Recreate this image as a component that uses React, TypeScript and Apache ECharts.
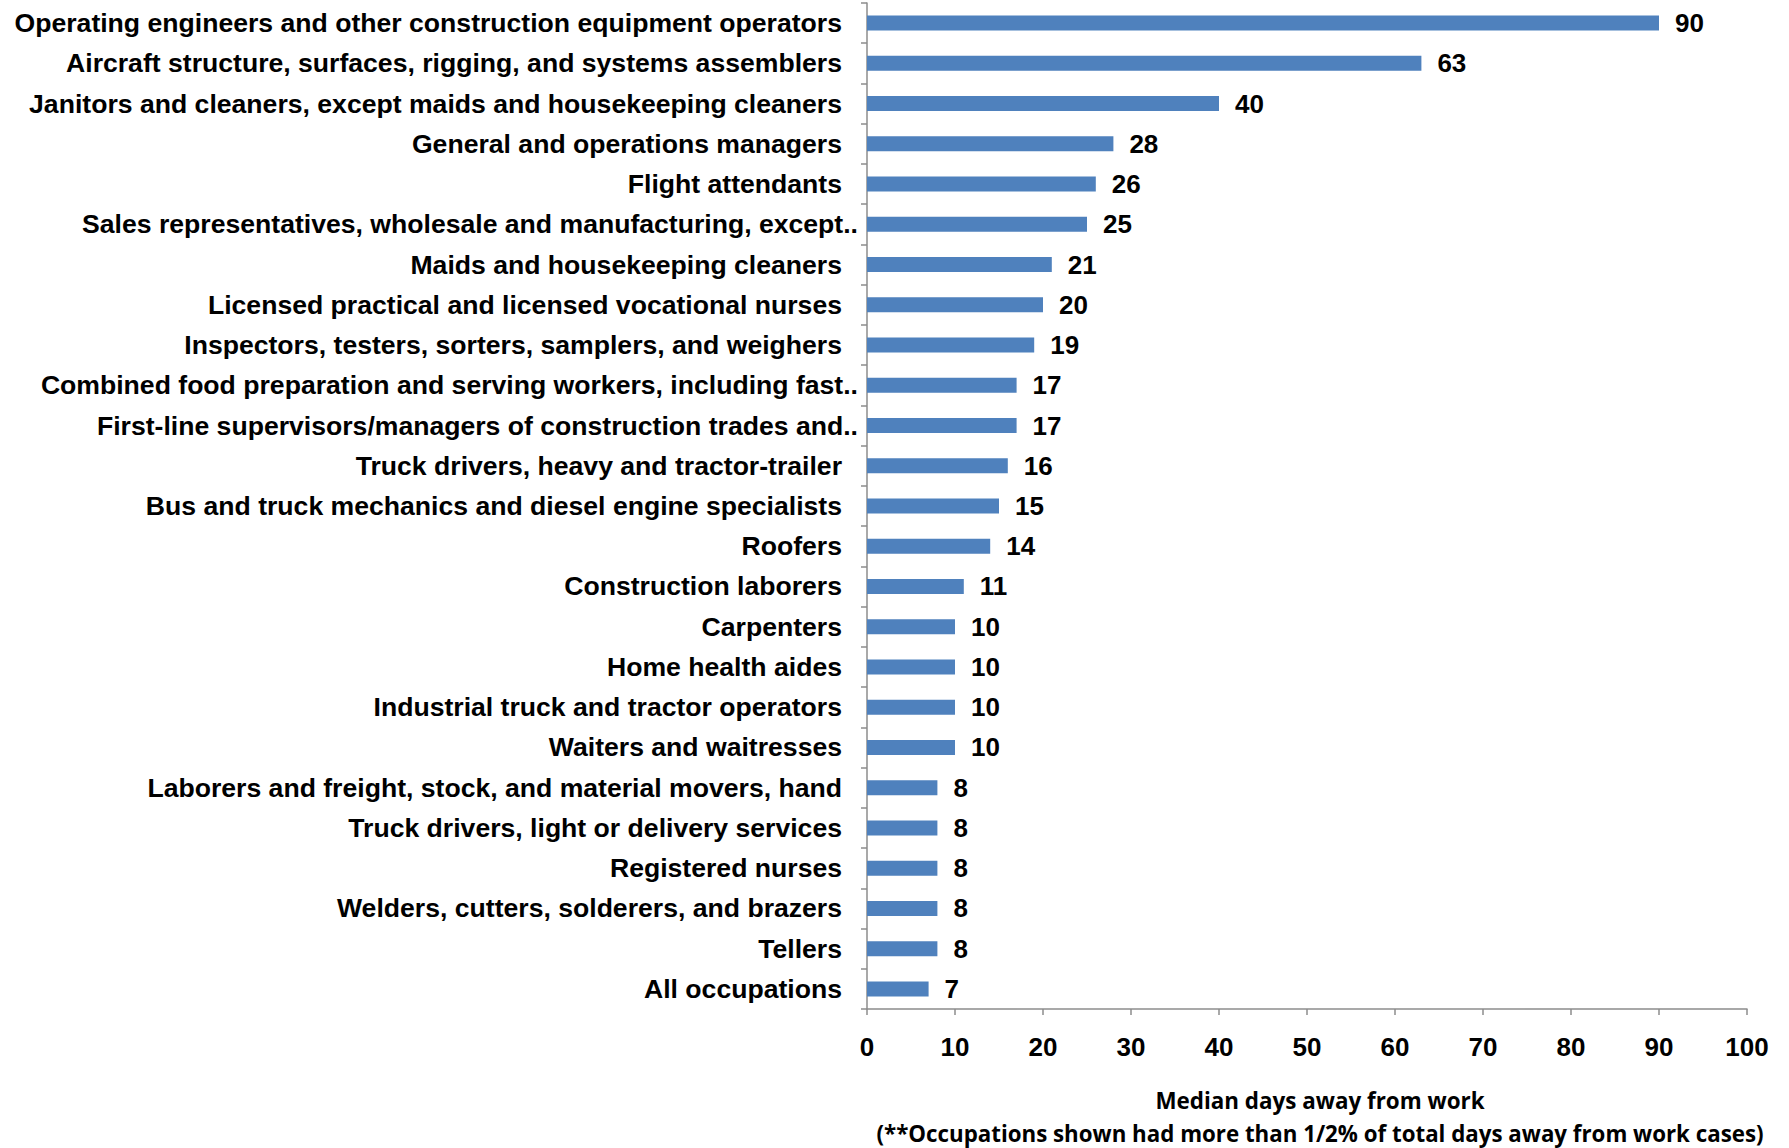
import React, { useEffect, useRef } from "react";
import * as echarts from "echarts";

const categories = [
  "Operating engineers and other construction equipment operators",
  "Aircraft structure, surfaces, rigging, and systems assemblers",
  "Janitors and cleaners, except maids and housekeeping cleaners",
  "General and operations managers",
  "Flight attendants",
  "Sales representatives, wholesale and manufacturing, except..",
  "Maids and housekeeping cleaners",
  "Licensed practical and licensed vocational nurses",
  "Inspectors, testers, sorters, samplers, and weighers",
  "Combined food preparation and serving workers, including fast..",
  "First-line supervisors/managers of construction trades and..",
  "Truck drivers, heavy and tractor-trailer",
  "Bus and truck mechanics and diesel engine specialists",
  "Roofers",
  "Construction laborers",
  "Carpenters",
  "Home health aides",
  "Industrial truck and tractor operators",
  "Waiters and waitresses",
  "Laborers and freight, stock, and material movers, hand",
  "Truck drivers, light or delivery services",
  "Registered nurses",
  "Welders, cutters, solderers, and brazers",
  "Tellers",
  "All occupations",
];

const medianDays = [90, 63, 40, 28, 26, 25, 21, 20, 19, 17, 17, 16, 15, 14, 11, 10, 10, 10, 10, 8, 8, 8, 8, 8, 7];

const xTicks = { min: 0, max: 100, interval: 10 };

const axisTitle = "Median days away from work";
const axisNote = "(**Occupations shown had more than 1/2% of total days away from work cases)";

export default function App() {
  const ref = useRef<HTMLDivElement>(null);

  useEffect(() => {
    document.body.style.margin = "0";
    if (!ref.current) return;
    const chart = echarts.init(ref.current, null, { renderer: "svg" });
    const labelFont = "'Liberation Sans', Arial, sans-serif";
    const titleFont = "'Open Sans', 'Noto Sans', sans-serif";
    const fs = 26;
    const cfs = 26.6;
    chart.setOption({
      animation: false,
      backgroundColor: "#ffffff",
      grid: { left: 867, right: 42, top: 3, bottom: 139, containLabel: false },
      xAxis: {
        type: "value",
        min: xTicks.min,
        max: xTicks.max,
        interval: xTicks.interval,
        splitLine: { show: false },
        axisLine: { show: true, lineStyle: { color: "#8c8c8c", width: 1.5 } },
        axisTick: { show: true, length: 6, lineStyle: { color: "#8c8c8c", width: 1.5 } },
        axisLabel: {
          margin: 25,
          color: "#000",
          fontSize: fs,
          fontWeight: "bold",
          fontFamily: labelFont,
        },
      },
      yAxis: {
        type: "category",
        data: categories,
        inverse: true,
        axisLine: { show: true, lineStyle: { color: "#8c8c8c", width: 1.5 } },
        axisTick: { show: true, length: 6, alignWithLabel: false, lineStyle: { color: "#8c8c8c", width: 1.5 } },
        axisLabel: {
          margin: 9,
          interval: 0,
          color: "#000",
          fontSize: cfs,
          fontWeight: "bold",
          fontFamily: labelFont,
          formatter: (v: string) => (v.endsWith("..") ? `{t|${v}}` : `{n|${v}}`),
          rich: {
            t: { fontSize: cfs, fontWeight: "bold", fontFamily: labelFont, color: "#000" },
            n: { fontSize: cfs, fontWeight: "bold", fontFamily: labelFont, color: "#000", padding: [0, 16, 0, 0] },
          },
        },
      },
      series: [
        {
          type: "bar",
          data: medianDays,
          barWidth: 15,
          itemStyle: { color: "#4f81bd" },
          label: {
            show: true,
            position: "right",
            distance: 16,
            color: "#000",
            fontSize: fs,
            fontWeight: "bold",
            fontFamily: labelFont,
          },
        },
      ],
      graphic: [
        {
          type: "text",
          x: 1320,
          y: 1100,
          style: {
            text: axisTitle,
            fill: "#000",
            font: `bold 22.4px ${titleFont}`,
            textAlign: "center",
            textVerticalAlign: "middle",
          },
        },
        {
          type: "text",
          x: 1320,
          y: 1133,
          style: {
            text: axisNote,
            fill: "#000",
            font: `bold 22.3px ${titleFont}`,
            textAlign: "center",
            textVerticalAlign: "middle",
          },
        },
      ],
    });
    return () => chart.dispose();
  }, []);

  return <div ref={ref} style={{ width: 1789, height: 1148 }} />;
}
